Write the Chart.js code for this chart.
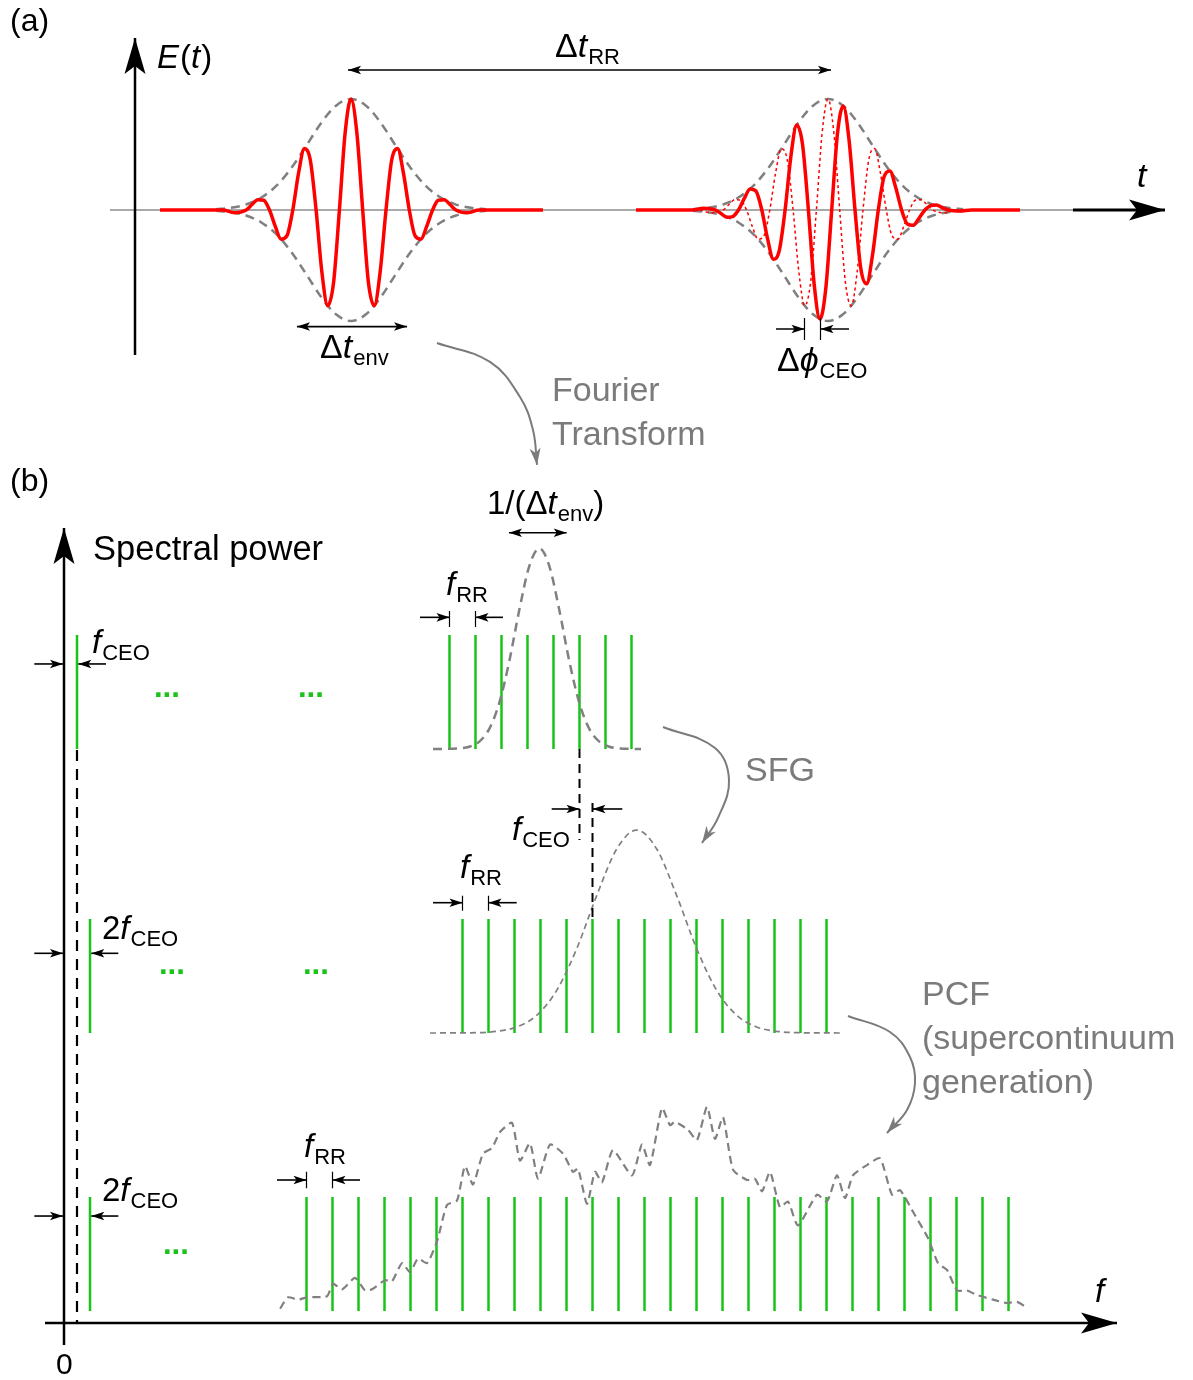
<!DOCTYPE html>
<html><head><meta charset="utf-8">
<script src="https://cdn.jsdelivr.net/npm/chart.js@4.4.1/dist/chart.umd.min.js"></script>
<style>html,body{margin:0;padding:0;background:#fff}#wrap{position:relative;width:1193px;height:1380px}</style>
</head><body><div id="wrap"><canvas id="c"></canvas></div>
<script>
// ---------------- Panel (a): time t (arb. units, E-axis at t = 0), field E (envelope peak = 1)
const pulse1T = [25, 87.9, 99.5, 111.2, 117, 122.8, 128.7, 134.5, 140.3, 146.1, 152, 157.8, 163.6, 169.4, 175.3, 181.1, 186.9, 192.7, 198.6, 204.4, 210.2, 216, 221.8, 227.7, 233.4, 239.3, 245.1, 251, 256.7, 262.6, 268.4, 274.3, 280, 285.9, 291.7, 297.6, 303.3, 309.2, 315, 320.9, 332.5, 344.2, 408];
const pulse1E = [0, 0, -0.025, 0, 0.049, 0.093, 0.088, 0, -0.148, -0.263, -0.231, 0, 0.334, 0.553, 0.450, 0, -0.561, -0.862, -0.651, 0, 0.70, 1.0, 0.70, 0, -0.651, -0.862, -0.561, 0, 0.450, 0.553, 0.334, 0, -0.231, -0.263, -0.148, 0, 0.088, 0.093, 0.049, 0, -0.025, 0, 0];
const pulse2T = [501, 545, 556.9, 568.5, 580.2, 586, 591.8, 597.6, 603.5, 609.3, 615.1, 620.9, 626.8, 632.6, 638.4, 644.2, 650.1, 655.9, 661.7, 667.5, 673.4, 679.2, 685.0, 690.8, 696.7, 702.5, 708.3, 714.1, 720.0, 725.8, 731.6, 737.4, 743.3, 749.1, 754.9, 760.7, 766.6, 772.4, 778.2, 784, 789.9, 795.7, 801.5, 807.3, 813.2, 824.8, 836.5, 885];
const pulse2E = [0, 0, 0, 0.015, 0, -0.031, -0.065, -0.059, 0, 0.104, 0.19, 0.171, 0, -0.261, -0.443, -0.369, 0, 0.485, 0.765, 0.592, 0, -0.671, -0.983, -0.706, 0, 0.690, 0.938, 0.626, 0, -0.527, -0.665, -0.413, 0, 0.299, 0.351, 0.202, 0, -0.126, -0.138, -0.074, 0, 0.04, 0.045, 0.02, 0, -0.009, 0, 0];
const refPulseT = [564.9, 576.5, 588.2, 594, 599.8, 605.7, 611.5, 617.3, 623.1, 629, 634.8, 640.6, 646.4, 652.3, 658.1, 663.9, 669.7, 675.6, 681.4, 687.2, 693, 698.8, 704.7, 710.4, 716.3, 722.1, 728, 733.7, 739.6, 745.4, 751.3, 757, 762.9, 768.7, 774.6, 780.3, 786.2, 792, 797.9, 809.5, 821.2];
const refPulseE = [0, -0.025, 0, 0.049, 0.093, 0.088, 0, -0.148, -0.263, -0.231, 0, 0.334, 0.553, 0.450, 0, -0.561, -0.862, -0.651, 0, 0.70, 1.0, 0.70, 0, -0.651, -0.862, -0.561, 0, 0.450, 0.553, 0.334, 0, -0.231, -0.263, -0.148, 0, 0.088, 0.093, 0.049, 0, -0.025, 0];
const pulseCenters = [216, 693];
const envOffset = [-135, -120, -105, -90, -75, -60, -45, -30, -15, 0, 15, 30, 45, 60, 75, 90, 105, 120, 135];
const envAmp = [0.007, 0.02, 0.049, 0.11, 0.215, 0.374, 0.575, 0.782, 0.94, 1, 0.94, 0.782, 0.575, 0.374, 0.215, 0.11, 0.049, 0.02, 0.007];

// ---------------- Panel (b): frequency f (arb. units, f = 0 at the power axis), spectral power (comb line height = 1)
const ceoLineRow1 = [13];
const ceoLineRow23 = [26];
const combRow1 = [385.5, 411.5, 437.5, 463.5, 489.5, 515.5, 541.5, 567.5];
const combRow2 = [398.5, 424.5, 450.5, 476.5, 502.5, 528.5, 554.5, 580.5, 606.5, 632.5, 658.5, 684.5, 710.5, 736.5, 762.5];
const combRow3 = [242.5, 268.5, 294.5, 320.5, 346.5, 372.5, 398.5, 424.5, 450.5, 476.5, 502.5, 528.5, 554.5, 580.5, 606.5, 632.5, 658.5, 684.5, 710.5, 736.5, 762.5, 788.5, 814.5, 840.5, 866.5, 892.5, 918.5, 944.5];
const gauss1F = [369, 395.3, 405.3, 415.3, 425.3, 435.3, 445.3, 455.3, 465.3, 475.3, 485.3, 495.3, 505.3, 515.3, 525.3, 535.3, 545.3, 555.3, 577];
const gauss1P = [0, 0.005, 0.02, 0.065, 0.177, 0.405, 0.77, 1.22, 1.605, 1.76, 1.605, 1.22, 0.77, 0.405, 0.177, 0.065, 0.02, 0.005, 0];
const gauss2F = [366, 412.7, 432.7, 452.7, 472.7, 492.7, 512.7, 532.7, 552.7, 572.7, 592.7, 612.7, 632.7, 652.7, 672.7, 692.7, 712.7, 732.7, 776];
const gauss2P = [0, 0.003, 0.015, 0.053, 0.155, 0.374, 0.739, 1.205, 1.614, 1.78, 1.614, 1.205, 0.739, 0.374, 0.155, 0.053, 0.015, 0.003, 0];
const scF = [216, 224, 234, 243, 263, 269, 278, 291, 301, 308, 321, 328, 338, 346, 354, 363, 373, 383, 393, 401, 409, 419, 428, 436, 448, 456, 466, 474, 486, 499, 509, 514, 523, 531, 538, 549, 568, 578, 586, 598, 606, 611, 624, 633, 643, 651, 659, 669, 683, 691, 698, 706, 716, 724, 734, 753, 763, 773, 781, 789, 803, 816, 828, 836, 849, 864, 874, 883, 893, 903, 913, 929, 943, 953, 961];
const scP = [0.02, 0.12, 0.10, 0.12, 0.13, 0.24, 0.19, 0.29, 0.18, 0.19, 0.27, 0.26, 0.42, 0.34, 0.46, 0.42, 0.61, 0.93, 0.97, 1.27, 1.11, 1.38, 1.43, 1.57, 1.65, 1.32, 1.47, 1.16, 1.46, 1.38, 1.22, 1.25, 0.94, 1.22, 1.13, 1.41, 1.19, 1.46, 1.28, 1.78, 1.63, 1.66, 1.59, 1.50, 1.79, 1.51, 1.70, 1.24, 1.15, 1.16, 1.05, 1.22, 0.91, 0.96, 0.75, 1.02, 0.96, 1.19, 0.99, 1.19, 1.28, 1.34, 1.02, 1.06, 0.87, 0.64, 0.42, 0.36, 0.18, 0.18, 0.14, 0.10, 0.07, 0.08, 0.04];

// ---------------- styling / layout
const FAM = '"Liberation Sans", Arial, Helvetica, "DejaVu Sans", sans-serif';
const RED = '#ff0000', GREEN = '#19c419', GRAY = '#808080', TGRAY = '#7b7b7b';
const BIG = {L: 36, W: 10.5, N: 8, color: '#000'};
const SMALL = {L: 13, W: 4.3, N: 3, color: '#000'};
const GH = {L: 17, W: 5.5, N: 5, color: TGRAY};

const ds = [];
function push(d) { d.order = -ds.length; ds.push(d); }
function xy(xs, ys) { return xs.map((x, i) => ({x, y: ys[i]})); }
function P(arr) { return arr.map(p => ({x: p[0], y: p[1]})); }
function L(xId, yId, data, color, width, opt) {
  return Object.assign({xAxisID: xId, yAxisID: yId, data, showLine: true, borderColor: color, backgroundColor: color,
    borderWidth: width, pointRadius: 0, pointHoverRadius: 0, fill: false, tension: 0, spanGaps: false}, opt || {});
}
function combData(fs) { const d = []; fs.forEach(f => { d.push({x: f, y: 0}, {x: f, y: 1}, {x: f, y: null}); }); return d; }
const MONO = {cubicInterpolationMode: 'monotone'};

// ----- panel (a)
push(L('xa', 'ya', P([[-25, 0], [938, 0]]), '#8c8c8c', 1.5));
pulseCenters.forEach(c => {
  push(L('xa', 'ya', xy(envOffset.map(o => c + o), envAmp), GRAY, 2.5, Object.assign({borderDash: [9, 6]}, MONO)));
  push(L('xa', 'ya', xy(envOffset.map(o => c + o), envAmp.map(v => -v)), GRAY, 2.5, Object.assign({borderDash: [9, 6]}, MONO)));
});
push(L('xa', 'ya', xy(refPulseT, refPulseE), RED, 1.5, Object.assign({borderDash: [3, 3]}, MONO)));
push(L('xa', 'ya', xy(pulse1T, pulse1E), RED, 3.5, MONO));
push(L('xa', 'ya', xy(pulse2T, pulse2E), RED, 3.5, MONO));
push(L('xa', 'ya', P([[0, -1.306], [0, 1.55]]), '#000', 2.5, {arrow: Object.assign({end: true}, BIG)}));
push(L('xa', 'ya', P([[938, 0], [1030, 0]]), '#000', 3, {arrow: Object.assign({end: true}, BIG)}));
push(L('xa', 'ya', P([[213, 1.261], [696, 1.261]]), '#000', 1.5, {arrow: Object.assign({start: true, end: true}, SMALL)}));
push(L('xa', 'ya', P([[162, -1.05], [272, -1.05]]), '#000', 1.8, {arrow: Object.assign({start: true, end: true}, SMALL)}));
push(L('xa', 'ya', P([[641, -1.072], [669.5, -1.072]]), '#000', 1.5, {arrow: Object.assign({end: true}, SMALL)}));
push(L('xa', 'ya', P([[714, -1.072], [685.5, -1.072]]), '#000', 1.5, {arrow: Object.assign({end: true}, SMALL)}));
push(L('xa', 'ya', P([[669.5, -0.973], [669.5, -1.171]]), '#000', 1.2));
push(L('xa', 'ya', P([[685.5, -0.973], [685.5, -1.171]]), '#000', 1.2));
push(L('xa', 'ya', P([[302, -1.198], [355, -1.369], [385, -1.685], [398, -1.982], [402, -2.297]]), TGRAY, 2, {tension: 0.4, arrow: Object.assign({end: true}, GH)}));

// ----- panel (b)
push(L('xb', 'y1', combData(ceoLineRow1.concat(combRow1)), GREEN, 2.5));
push(L('xb', 'y2', combData(ceoLineRow23.concat(combRow2)), GREEN, 2.5));
push(L('xb', 'y3', combData(ceoLineRow23.concat(combRow3)), GREEN, 2.5));
push(L('xb', 'y1', xy(gauss1F, gauss1P), GRAY, 2.5, Object.assign({borderDash: [9, 6]}, MONO)));
push(L('xb', 'y2', xy(gauss2F, gauss2P), GRAY, 1.7, Object.assign({borderDash: [6, 4]}, MONO)));
push(L('xb', 'y3', xy(scF, scP), GRAY, 2.2, {borderDash: [8, 5], tension: 0.2}));
push(L('xb', 'y3', P([[13, 4.921], [13, -0.105]]), '#000', 2.2, {borderDash: [11, 8]}));
push(L('xb', 'y1', P([[515.5, 0], [515.5, -0.798]]), '#000', 2, {borderDash: [9, 6]}));
push(L('xb', 'y2', P([[528.5, 2.018], [528.5, 1.0]]), '#000', 2, {borderDash: [9, 6]}));
push(L('xb', 'y3', P([[0, -0.298], [0, 6.868]]), '#000', 2.5, {arrow: Object.assign({end: true}, BIG)}));
push(L('xb', 'y3', P([[-19, -0.105], [1053, -0.105]]), '#000', 2.5, {arrow: Object.assign({end: true}, BIG)}));
const dimArrows = [
  ['y2', [[487.7, 1.965], [515.5, 1.965]]], ['y2', [[558.3, 1.965], [528.5, 1.965]]],
  ['y1', [[-29.7, 0.746], [-1, 0.746]]], ['y1', [[42, 0.746], [14.3, 0.746]]],
  ['y2', [[-29.7, 0.699], [-1, 0.699]]], ['y2', [[54.3, 0.699], [27.3, 0.699]]],
  ['y3', [[-29.7, 0.833], [-1, 0.833]]], ['y3', [[54.3, 0.833], [27.3, 0.833]]],
  ['y1', [[356, 1.155], [385.5, 1.155]]], ['y1', [[439, 1.155], [411.5, 1.155]]],
  ['y2', [[369, 1.143], [398.5, 1.143]]], ['y2', [[452.7, 1.143], [424.5, 1.143]]],
  ['y3', [[213, 1.149], [242.5, 1.149]]], ['y3', [[296, 1.149], [268.5, 1.149]]]
];
dimArrows.forEach(a => push(L('xb', a[0], P(a[1]), '#000', 1.6, {arrow: Object.assign({end: true}, SMALL)})));
const dimTicks = [
  ['y1', 385.5, 1.21, 1.07], ['y1', 411.5, 1.21, 1.07],
  ['y2', 398.5, 1.204, 1.073], ['y2', 424.5, 1.204, 1.073],
  ['y3', 242.5, 1.222, 1.076], ['y3', 268.5, 1.222, 1.076]
];
dimTicks.forEach(t => push(L('xb', t[0], P([[t[1], t[2]], [t[1], t[3]]]), '#000', 1.2)));
push(L('xb', 'y1', P([[445, 1.897], [502.7, 1.897]]), '#000', 1.6, {arrow: Object.assign({start: true, end: true}, SMALL)}));
push(L('xb', 'y1', P([[599, 0.193], [651, 0.009], [665, -0.272], [654, -0.605], [638, -0.825]]), TGRAY, 2, {tension: 0.4, arrow: Object.assign({end: true}, GH)}));
push(L('xb', 'y2', P([[784, 0.149], [826, 0.009], [846, -0.211], [851, -0.439], [843, -0.675], [823, -0.877]]), TGRAY, 2, {tension: 0.4, arrow: Object.assign({end: true}, GH)}));

// ----- text labels (pixel baseline positions); parts: n normal, i italic, s subscript, b bold
const labels = [
  [10, 31, [['(a)', 'n']], 32, '#000'],
  [157, 68, [['E', 'i'], ['(', 'n'], ['t', 'i'], [')', 'n']], 33, '#000'],
  [555, 57, [['Δ', 'n'], ['t', 'i'], ['RR', 's']], 34, '#000'],
  [320, 358, [['Δ', 'n'], ['t', 'i'], ['env', 's']], 34, '#000'],
  [777, 371, [['Δ', 'n'], ['ϕ', 'i'], ['CEO', 's']], 34, '#000'],
  [552, 401, [['Fourier', 'n']], 34, TGRAY],
  [552, 445, [['Transform', 'n']], 34, TGRAY],
  [10, 491, [['(b)', 'n']], 32, '#000'],
  [93, 560, [['Spectral power', 'n']], 34.5, '#000'],
  [92, 653, [['f', 'i'], ['CEO', 's']], 33, '#000'],
  [487, 514, [['1/(Δ', 'n'], ['t', 'i'], ['env', 's'], [')', 'n']], 33, '#000'],
  [446, 595, [['f', 'i'], ['RR', 's']], 33, '#000'],
  [745, 781, [['SFG', 'n']], 34, TGRAY],
  [512, 840, [['f', 'i'], ['CEO', 's']], 33, '#000'],
  [460, 878, [['f', 'i'], ['RR', 's']], 33, '#000'],
  [102, 939, [['2', 'n'], ['f', 'i'], ['CEO', 's']], 33, '#000'],
  [922, 1005, [['PCF', 'n']], 34, TGRAY],
  [922, 1049, [['(supercontinuum', 'n']], 34, TGRAY],
  [922, 1093, [['generation)', 'n']], 34, TGRAY],
  [304, 1157, [['f', 'i'], ['RR', 's']], 33, '#000'],
  [102, 1201, [['2', 'n'], ['f', 'i'], ['CEO', 's']], 33, '#000'],
  [1095, 1302, [['f', 'i']], 33, '#000'],
  [1137, 187, [['t', 'i']], 34, '#000'],
  [56, 1374, [['0', 'n']], 30, '#000'],
  [154, 697, [['...', 'b']], 31, GREEN],
  [298, 697, [['...', 'b']], 31, GREEN],
  [159, 974, [['...', 'b']], 31, GREEN],
  [303, 974, [['...', 'b']], 31, GREEN],
  [163, 1254, [['...', 'b']], 31, GREEN]
];

function head(ctx, tip, from, a) {
  const dx = tip.x - from.x, dy = tip.y - from.y, len = Math.hypot(dx, dy) || 1;
  const ux = dx / len, uy = dy / len, nx = -uy, ny = ux;
  ctx.beginPath();
  ctx.moveTo(tip.x, tip.y);
  ctx.lineTo(tip.x - a.L * ux + a.W * nx, tip.y - a.L * uy + a.W * ny);
  ctx.lineTo(tip.x - (a.L - a.N) * ux, tip.y - (a.L - a.N) * uy);
  ctx.lineTo(tip.x - a.L * ux - a.W * nx, tip.y - a.L * uy - a.W * ny);
  ctx.closePath();
  ctx.fillStyle = a.color;
  ctx.fill();
}
const decor = {
  id: 'decor',
  afterDatasetsDraw(chart) {
    const ctx = chart.ctx;
    ctx.save();
    chart.data.datasets.forEach((d, i) => {
      if (!d.arrow) return;
      const pts = chart.getDatasetMeta(i).data, n = pts.length, a = d.arrow;
      if (a.end) {
        const p = pts[n - 1];
        const q = (d.tension > 0 && p.cp1x != null) ? {x: p.cp1x, y: p.cp1y} : pts[n - 2];
        head(ctx, p, q, a);
      }
      if (a.start) {
        const p = pts[0];
        const q = (d.tension > 0 && p.cp2x != null) ? {x: p.cp2x, y: p.cp2y} : pts[1];
        head(ctx, p, q, a);
      }
    });
    const ox = chart.chartArea.left, oy = chart.chartArea.top;
    ctx.textBaseline = 'alphabetic';
    ctx.textAlign = 'left';
    labels.forEach(([x, y, parts, size, color]) => {
      let cx = ox + x;
      parts.forEach(([s, st]) => {
        let dy = 0;
        if (st === 'i') ctx.font = 'italic ' + size + 'px ' + FAM;
        else if (st === 'b') ctx.font = 'bold ' + size + 'px ' + FAM;
        else if (st === 's') { ctx.font = Math.round(size * 0.66) + 'px ' + FAM; dy = size * 0.2; }
        else ctx.font = size + 'px ' + FAM;
        ctx.fillStyle = color;
        ctx.fillText(s, cx, oy + y + dy);
        cx += ctx.measureText(s).width + (st === 'i' ? 1 : 0);
      });
    });
    ctx.restore();
  }
};

new Chart(document.getElementById('c'), {
  type: 'scatter',
  data: {datasets: ds},
  options: {
    responsive: true, maintainAspectRatio: false, animation: false, events: [],
    layout: {padding: 0},
    plugins: {legend: {display: false}, tooltip: {enabled: false}, title: {display: false}},
    scales: {
      xa: {type: 'linear', axis: 'x', min: -135, max: 1058, display: false},
      xb: {type: 'linear', axis: 'x', min: -64, max: 1129, display: false},
      ya: {type: 'linear', axis: 'y', min: -10.5405, max: 1.8919, display: false},
      y1: {type: 'linear', axis: 'y', min: -5.5351, max: 6.5702, display: false},
      y2: {type: 'linear', axis: 'y', min: -3.0439, max: 9.0614, display: false},
      y3: {type: 'linear', axis: 'y', min: -0.6053, max: 11.5, display: false}
    }
  },
  plugins: [decor]
});
</script></body></html>
